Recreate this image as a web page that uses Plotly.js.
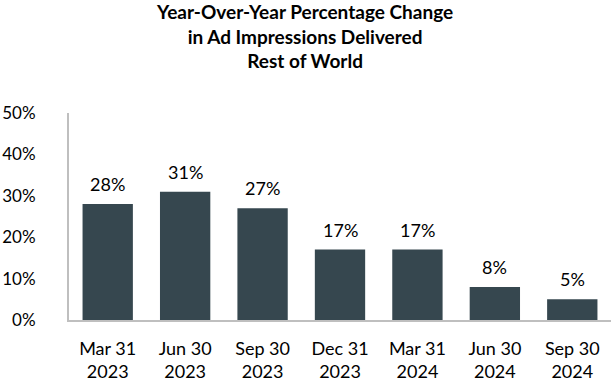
<!DOCTYPE html>
<html>
<head>
<meta charset="utf-8">
<script src="https://cdn.plot.ly/plotly-3.0.1.min.js"></script>
<style>html,body{margin:0;padding:0;background:#fff;}#chart{width:614px;height:384px;}</style>
</head>
<body>
<div id="chart"></div>
<script>
var categories = ["Mar 31<br>2023", "Jun 30<br>2023", "Sep 30<br>2023", "Dec 31<br>2023", "Mar 31<br>2024", "Jun 30<br>2024", "Sep 30<br>2024"];
var values = [28, 31, 27, 17, 17, 8, 5];
var yTickVals = [0, 10, 20, 30, 40, 50];
var yTickText = ["0%", "10%", "20%", "30%", "40%", "50%"];
var titleLines = ["Year-Over-Year Percentage Change", "in Ad Impressions Delivered", "Rest of World"];

var FONT = "Lato, 'Open Sans', sans-serif";

var trace = {
  type: "bar",
  x: categories,
  y: values,
  marker: {color: "#36474f"},
  hoverinfo: "none"
};

var annotations = values.map(function (v, i) {
  return {
    x: categories[i], y: v, xref: "x", yref: "y",
    text: v + "%", showarrow: false,
    yanchor: "bottom", yshift: 7,
    font: {family: FONT, size: 18, color: "#000"}
  };
});

annotations.push({
  text: "<b>" + titleLines.join("<br>") + "</b>",
  xref: "paper", yref: "paper", x: 0.435, y: 1,
  xanchor: "center", yanchor: "bottom", yshift: 39,
  showarrow: false, align: "center",
  font: {family: FONT, size: 19, color: "#000"}
});

var layout = {
  width: 614, height: 384,
  margin: {l: 69, r: 3, t: 113, b: 64, pad: 0},
  paper_bgcolor: "#fff", plot_bgcolor: "#fff",
  showlegend: false,
  bargap: 0.35,
  xaxis: {
    type: "category",
    showline: true, linecolor: "#bfbfbf", linewidth: 2,
    showgrid: false, zeroline: false,
    ticks: "", ticklabelstandoff: 11,
    tickfont: {family: FONT, size: 18, color: "#000"}
  },
  yaxis: {
    range: [0, 50],
    showline: true, linecolor: "#bfbfbf", linewidth: 2,
    showgrid: false, zeroline: false,
    tickmode: "array", tickvals: yTickVals, ticktext: yTickText,
    ticks: "", ticklabelstandoff: 28,
    tickfont: {family: FONT, size: 17, color: "#000"}
  },
  annotations: annotations
};

Plotly.newPlot("chart", [trace], layout, {displayModeBar: false, staticPlot: true});
</script>
</body>
</html>
